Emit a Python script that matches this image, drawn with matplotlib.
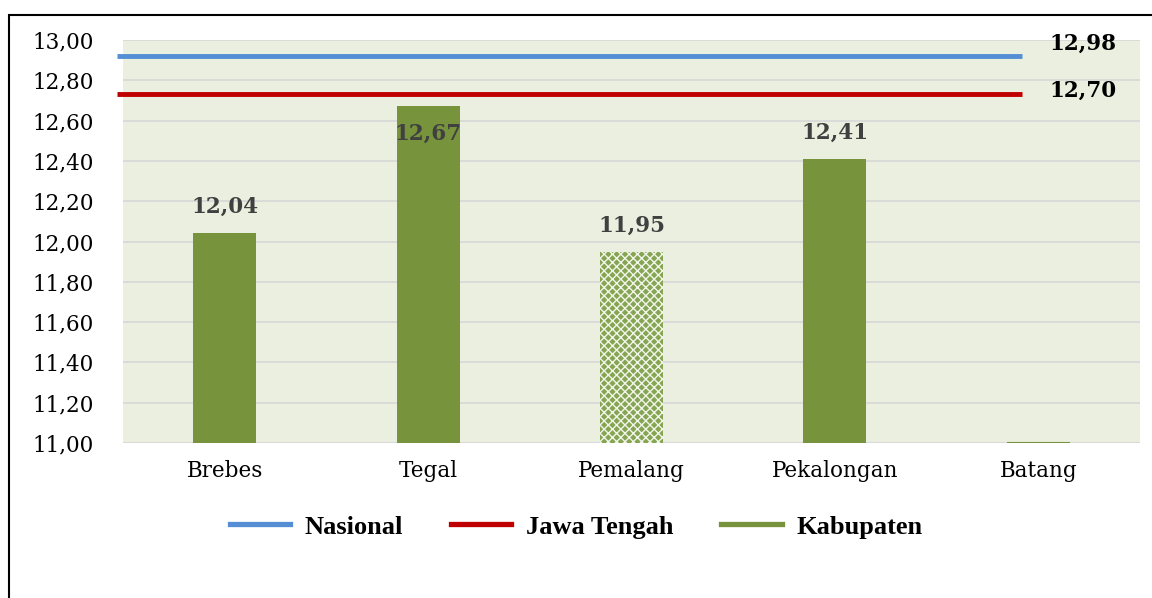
import matplotlib

matplotlib.use("Agg")
import matplotlib.pyplot as plt
from matplotlib.lines import Line2D
from matplotlib.patches import Rectangle

# --------------------------------------------------------------------------- #
# Data
# --------------------------------------------------------------------------- #
categories = ["Brebes", "Tegal", "Pemalang", "Pekalongan", "Batang"]
kabupaten = [12.04, 12.67, 11.95, 12.41, 11.00]
bar_labels = ["12,04", "12,67", "11,95", "12,41", ""]

# reference lines: drawn position and the printed value
ref_names = ["Nasional", "Jawa Tengah"]
ref_values = [12.92, 12.73]
ref_labels = ["12,98", "12,70"]

yticks = [11.0, 11.2, 11.4, 11.6, 11.8, 12.0, 12.2, 12.4, 12.6, 12.8, 13.0]

GREEN = "#77933C"
BLUE = "#558ED5"
RED = "#C00000"
BG = "#EBEFDF"
GRID = "#D9D9D9"
SERIF = ["DejaVu Serif"]

plt.rcParams["hatch.linewidth"] = 1.0

fig = plt.figure(figsize=(11.52, 5.98), dpi=100)
ax = fig.add_axes((0.1068, 0.2592, 0.8828, 0.6739))
ax.set_facecolor(BG)

x = list(range(len(categories)))
bars = ax.bar(x, [v - 11.0 for v in kabupaten], bottom=11.0, width=0.31,
              color=GREEN, edgecolor=GREEN, linewidth=0, zorder=3)
# Pemalang drawn with a pattern fill
bars[2].set_facecolor("#86A553")
bars[2].set_hatch("xxxx")
bars[2].set_edgecolor("#F2F5EA")
# Batang sits on the baseline: show it as a thin stroke
ax.plot([4 - 0.155, 4 + 0.155], [kabupaten[4], kabupaten[4]], color=GREEN,
        lw=1.5, zorder=4, solid_capstyle="butt")

# value labels (Tegal sits just under its top, like the original)
for i, (v, lab) in enumerate(zip(kabupaten, bar_labels)):
    if not lab:
        continue
    yy = v + 0.13 if i != 1 else v - 0.135
    ax.text(i, yy, lab, ha="center", va="center", fontsize=15.5,
            fontweight="bold", color="#404040", family=SERIF, zorder=5)

# reference lines
for val, col in zip(ref_values, [BLUE, RED]):
    ax.plot([-0.53, 3.92], [val, val], color=col, lw=3.5, zorder=4,
            solid_capstyle="butt", clip_on=False)
for val, lab, yy in zip(ref_values, ref_labels, [12.98, 12.75]):
    ax.text(4.22, yy, lab, ha="center", va="center", fontsize=15.5,
            fontweight="bold", color="black", family=SERIF, zorder=5)

ax.set_xlim(-0.5, 4.5)
ax.set_ylim(11.0, 13.0)
ax.set_yticks(yticks)
ax.set_yticklabels([f"{t:.2f}".replace(".", ",") for t in yticks],
                   family=SERIF, fontsize=15.5)
ax.set_xticks(x)
ax.set_xticklabels(categories, family=SERIF, fontsize=15.5)
ax.tick_params(length=0)
ax.tick_params(axis="x", pad=12)
ax.tick_params(axis="y", pad=21)
ax.grid(axis="y", color=GRID, lw=1.3, zorder=0)
ax.set_axisbelow(True)
for s in ax.spines.values():
    s.set_visible(False)
ax.axhline(11.0, color=GRID, lw=1.5, zorder=2)

# legend
handles = [Line2D([], [], color=BLUE, lw=3.8),
           Line2D([], [], color=RED, lw=3.8),
           Line2D([], [], color=GREEN, lw=3.8)]
fig.legend(handles, ref_names + ["Kabupaten"], loc="center",
           bbox_to_anchor=(0.5, 0.119), ncol=3, frameon=False,
           handlelength=2.3, columnspacing=1.8, handletextpad=0.55,
           prop={"family": ["Liberation Serif"], "weight": "bold", "size": 19})

# outer frame (left and top edges visible)
fig.patches.append(Rectangle((9 / 1152, -0.2), 1.2, 1.2 - 15 / 598,
                             transform=fig.transFigure, fill=False,
                             edgecolor="black", lw=1.5))

fig.savefig("out.png", dpi=100)
